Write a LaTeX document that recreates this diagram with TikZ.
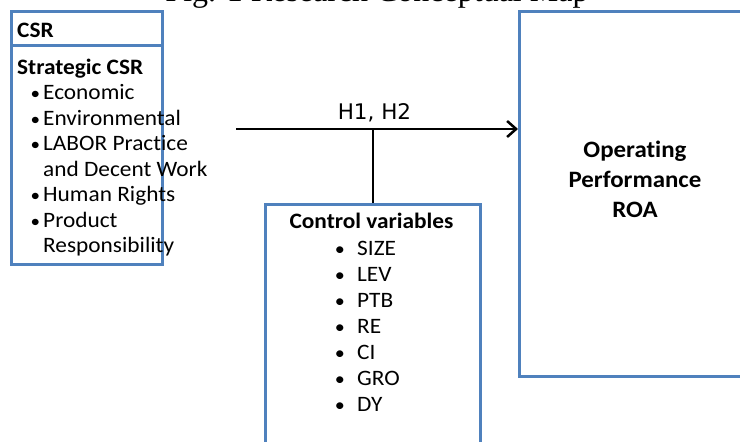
\documentclass[tikz,border=0pt]{standalone}
\usepackage{fontspec}
\setmainfont{Carlito}[FakeStretch=1.06, Ligatures=NoCommon]
\newfontfamily\titlefont{Liberation Serif}
\newfontfamily\labfont{DejaVu Sans}
\usetikzlibrary{arrows.meta}
\definecolor{boxblue}{RGB}{79,129,189}
\tikzset{
  box/.style={draw=boxblue, line width=2.5pt, rectangle, inner sep=0pt, anchor=north west, fill=white},
  txt/.style={inner sep=0pt, anchor=base west, font=\fontsize{22}{26}\selectfont},
  btxt/.style={txt, font=\fontsize{22}{26}\selectfont\bfseries},
  bul/.style={inner sep=0pt, anchor=base, font=\fontsize{18}{26}\selectfont},
  cbul/.style={inner sep=0pt, anchor=base, font=\fontsize{19}{26}\selectfont},
  ctxt/.style={inner sep=0pt, anchor=base, font=\fontsize{23.5}{30}\selectfont\bfseries},
  conn/.style={line width=2.5pt, black},
}
\begin{document}
\begin{tikzpicture}[x=1pt, y=-1pt]
\clip (0,0) rectangle (740,442);
\useasboundingbox (0,0) rectangle (740,442);
% title (cut off at top, as in the reference)
\node[inner sep=0pt, anchor=base, font=\titlefont\fontsize{32}{36}\selectfont] (title) at (377,1) {Fig. 1 Research Conceptual Map};
% CSR boxes
\node[box, minimum width=151pt, minimum height=34pt] (csrhead) at (10,10) {};
\node[box, minimum width=151pt, minimum height=219pt] (csrbody) at (10,44) {};
\node[btxt] (csrt) at (17,37) {CSR};
\node[btxt] (strat) at (17,74) {Strategic CSR};
\node[bul] (b1) at (35.5,99.5) {•};
\node[txt] (l1) at (43,99.5) {Economic};
\node[bul] (b2) at (35.5,125) {•};
\node[txt] (l2) at (43,125) {Environmental};
\node[bul] (b3) at (35.5,150.5) {•};
\node[txt] (l3) at (43,150.5) {LABOR Practice};
\node[txt] (l3b) at (43,176) {and Decent Work};
\node[bul] (b4) at (35.5,201.5) {•};
\node[txt] (l4) at (43,201.5) {Human Rights};
\node[bul] (b5) at (35.5,227) {•};
\node[txt] (l5) at (43,227) {Product};
\node[txt] (l5b) at (43,252.5) {Responsibility};
% ROA box
\node[box, minimum width=242pt, minimum height=365pt] (roa) at (518,10) {};
\node[ctxt] (roa1) at (635,157) {Operating};
\node[ctxt] (roa2) at (635,187) {Performance};
\node[ctxt] (roa3) at (635,217) {ROA};
% control box
\node[box, minimum width=215pt, minimum height=257pt] (ctrl) at (264,203) {};
\node[btxt, anchor=base] (ctrlt) at (371.5,228) {Control variables};
\foreach \n/\t [count=\i from 0] in {c1/SIZE,c2/LEV,c3/PTB,c4/RE,c5/CI,c6/GRO,c7/DY}{
  \node[cbul] (\n b) at (340,255+26*\i) {•};
  \node[txt] (\n) at (357,255+26*\i) {\t};
}
% connectors
\coordinate (h0) at (236,129);
\draw[conn, -{Straight Barb[length=9pt, width=16pt, line width=2.5pt]}] (h0) -- (h0 -| roa.west);
\draw[conn] (ctrl.north) -- (ctrl.north |- h0);
\node[inner sep=0pt, anchor=base, font=\labfont\fontsize{21.5}{26}\selectfont] (hlab) at (374.5,119) {H1, H2};
\end{tikzpicture}
\end{document}
